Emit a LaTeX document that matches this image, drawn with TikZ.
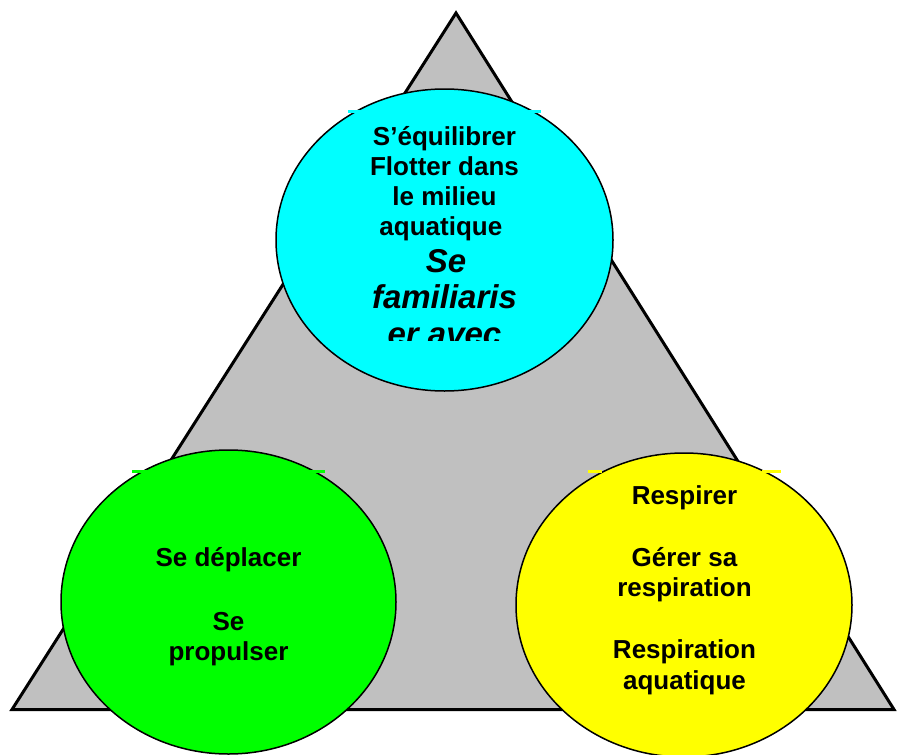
\documentclass[tikz,border=0pt]{standalone}
\usepackage{fontspec}
\setmainfont{Liberation Sans}
\usetikzlibrary{shapes.geometric}
\definecolor{trigray}{HTML}{C0C0C0}
\definecolor{aqua}{HTML}{00FFFF}
\definecolor{lime}{HTML}{00FF00}
\definecolor{sun}{HTML}{FFFF00}
\tikzset{
  bubble/.style={ellipse, draw=black, line width=1.5pt, inner sep=0pt,
    minimum width=337pt, minimum height=302pt},
  lbl/.style={anchor=base, inner sep=0pt, font=\fontsize{26}{30}\selectfont\bfseries},
  lblit/.style={anchor=base, inner sep=0pt, font=\fontsize{33}{37}\selectfont\bfseries\itshape},
}
\begin{document}
\begin{tikzpicture}[x=1pt,y=-1pt]
\useasboundingbox (0,0) rectangle (897,755);

% grey triangle in the background
\draw[line width=3pt, fill=trigray] (456,13) -- (12,709.5) -- (894,709.5) -- cycle;

% three bubbles
\node[bubble, fill=aqua] (top) at (444.5,240) {};
\node[bubble, fill=lime, minimum width=335pt, minimum height=304pt] (left) at (228.5,602) {};
\node[bubble, fill=sun, minimum width=336pt, minimum height=304pt] (right) at (684,605) {};

% corners of the text frames showing past the outlines
\fill[aqua] (348,110) rectangle (364,112.5);
\fill[aqua] (525,110) rectangle (541,112.5);
\fill[lime] (132,470) rectangle (147,472.5);
\fill[lime] (305,470) rectangle (325,472.5);
\fill[sun] (588,470) rectangle (602,472.5);
\fill[sun] (762,470) rectangle (781,472.5);

% top bubble text
\node[lbl] (a1) at (444.5,145) {S’équilibrer};
\node[lbl] (a2) at (444.5,175) {Flotter dans};
\node[lbl] (a3) at (444.5,205) {le milieu};
\node[lbl] (a4) at (444.5,235) {aquatique\hphantom{\ }};
\begin{scope}
  \clip (348,110) rectangle (541,340);
  \node[lblit] (a5) at (446,272) {Se};
  \node[lblit] (a6) at (444.5,308) {familiaris};
  \node[lblit] (a7) at (444.5,345) {er avec};
\end{scope}

% left bubble text
\node[lbl] (b1) at (228.5,566) {Se déplacer};
\node[lbl] (b2) at (228.5,630) {Se};
\node[lbl] (b3) at (228.5,660) {propulser};

% right bubble text
\node[lbl] (c1) at (684.5,504) {Respirer};
\node[lbl] (c2) at (684.5,566) {Gérer sa};
\node[lbl] (c3) at (684.5,596) {respiration};
\node[lbl] (c4) at (684.5,658) {Respiration};
\node[lbl] (c5) at (684.5,689) {aquatique};
\end{tikzpicture}
\end{document}
